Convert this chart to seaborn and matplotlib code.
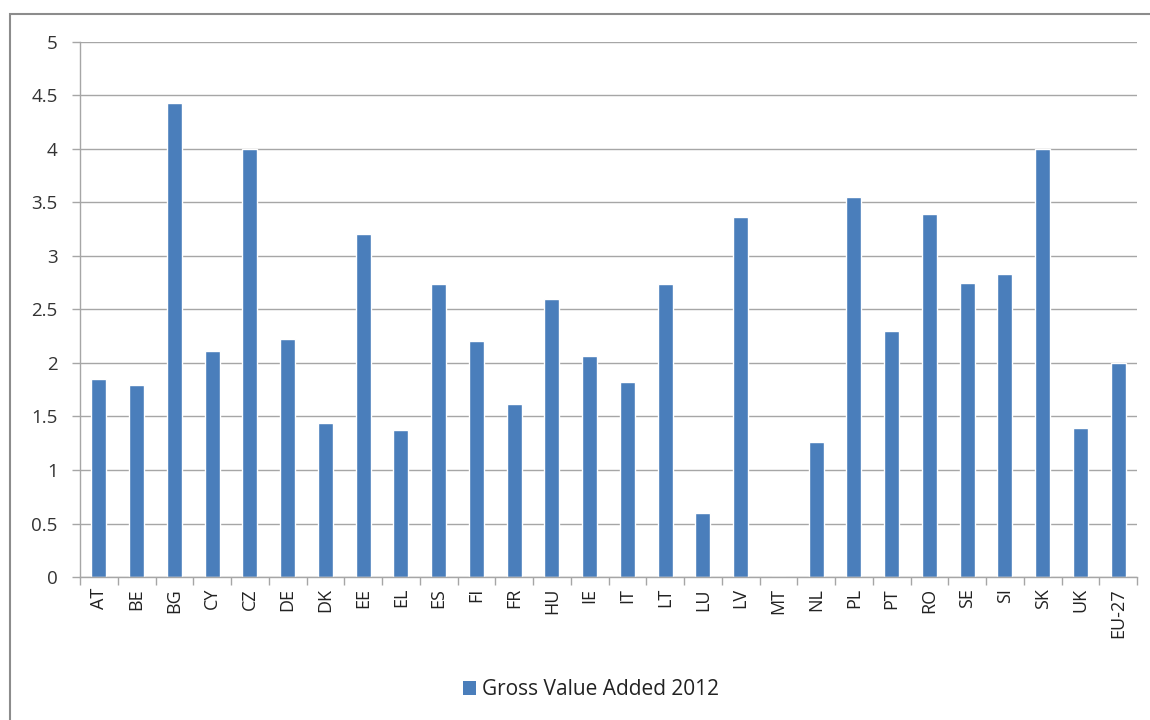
import pandas as pd
import seaborn as sns
import matplotlib
matplotlib.use("Agg")
import matplotlib.pyplot as plt
from matplotlib.patches import Rectangle, Patch

countries = ["AT", "BE", "BG", "CY", "CZ", "DE", "DK", "EE", "EL", "ES", "FI", "FR", "HU", "IE",
             "IT", "LT", "LU", "LV", "MT", "NL", "PL", "PT", "RO", "SE", "SI", "SK", "UK", "EU-27"]
gva_2012 = [1.85, 1.79, 4.43, 2.11, 4.0, 2.22, 1.44, 3.21, 1.37, 2.74, 2.21, 1.62, 2.60, 2.07,
            1.82, 2.74, 0.60, 3.36, 0.0, 1.26, 3.55, 2.30, 3.39, 2.75, 2.83, 4.0, 1.39, 2.0]
yticks = [0, 0.5, 1, 1.5, 2, 2.5, 3, 3.5, 4, 4.5, 5]
series_name = "Gross Value Added 2012"

bar_color = "#4A7EBB"
grid_color = "#A6A6A6"
text_color = "#333333"

df = pd.DataFrame({"country": countries, "value": gva_2012})

sns.set_theme(style="white")
plt.rcParams["font.family"] = ["Open Sans", "DejaVu Sans"]

fig = plt.figure(figsize=(11.5, 7.2), dpi=100)
ax = fig.add_axes([0.0696, 0.1986, 0.9191, 0.7431])

sns.barplot(data=df, x="country", y="value", color=bar_color, width=0.4,
            saturation=1, ax=ax)

ax.set_ylim(0, 5)
ax.set_xlim(-0.5, len(countries) - 0.5)
ax.set_yticks(yticks)
ax.set_yticklabels([f"{t:g}" for t in yticks], fontsize=13.5, color=text_color)
ax.yaxis.grid(True, color=grid_color, linewidth=1)
ax.set_axisbelow(True)

# category labels, tick marks between categories like the original
ax.set_xticks(range(len(countries)))
ax.set_xticklabels(countries, rotation=90, fontsize=13, color="#222222")
ax.set_xticks([i - 0.5 for i in range(len(countries) + 1)], minor=True)
ax.tick_params(axis="x", which="major", length=0, pad=8)
ax.tick_params(axis="x", which="minor", length=6, color=grid_color, width=1, direction="out", bottom=True)
ax.tick_params(axis="y", which="major", length=6, color=grid_color, width=1, direction="out", left=True, pad=10)

for side in ["top", "right"]:
    ax.spines[side].set_visible(False)
for side in ["left", "bottom"]:
    ax.spines[side].set_color(grid_color)
    ax.spines[side].set_linewidth(1)

ax.set_xlabel("")
ax.set_ylabel("")

fig.legend(handles=[Patch(facecolor=bar_color, edgecolor="none", label=series_name)],
           loc="center", bbox_to_anchor=(0.514, 0.042), frameon=False,
           fontsize=15, handlelength=0.6, handleheight=0.6, handletextpad=0.3,
           labelcolor="#222222")

# outer chart border
fig.patches.append(Rectangle((0.009, -0.02), 1.05, 1.0006, transform=fig.transFigure,
                             fill=False, edgecolor="#8C8C8C", linewidth=1.5))

fig.savefig("out.png", dpi=100, facecolor="white")
